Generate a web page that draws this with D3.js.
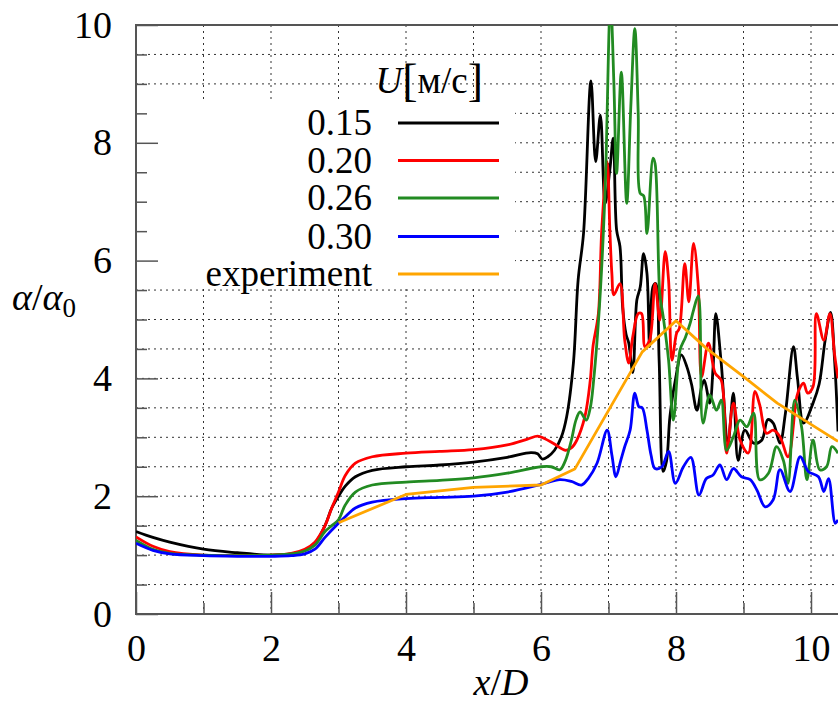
<!DOCTYPE html>
<html>
<head>
<meta charset="utf-8">
<script src="https://cdn.jsdelivr.net/npm/d3@7"></script>
<style>
  body { margin: 0; background: #fff; }
</style>
</head>
<body>
<svg id="chart"></svg>
<script>
// data, [x/D, alpha/alpha0]
const u015 = [[0,1.4],[0.25,1.3],[0.5,1.22],[1,1.1],[1.5,1.04],[2,1.0],[2.3,1.02],[2.5,1.08],[2.65,1.2],[2.8,1.5],[2.9,1.8],[3,2.0],[3.1,2.17],[3.25,2.33],[3.5,2.44],[4,2.5],[4.5,2.53],[5,2.58],[5.5,2.66],[5.85,2.74],[5.95,2.72],[6.02,2.63],[6.1,2.67],[6.2,2.78],[6.3,3.0],[6.38,3.35],[6.48,4.26],[6.55,5.67],[6.63,6.46],[6.74,9.05],[6.81,7.68],[6.88,8.47],[6.95,6.97],[7.02,7.54],[7.07,8.08],[7.12,6.52],[7.17,6.24],[7.21,5.2],[7.26,4.75],[7.3,4.6],[7.36,4.1],[7.42,5.33],[7.47,5.55],[7.52,6.12],[7.57,5.78],[7.61,4.54],[7.66,5.56],[7.7,5.61],[7.75,4.31],[7.81,2.42],[7.86,2.6],[7.91,3.35],[7.99,3.97],[8.08,4.4],[8.16,4.2],[8.23,3.9],[8.31,3.46],[8.38,3.86],[8.42,3.97],[8.5,3.58],[8.55,4.2],[8.59,5.1],[8.67,4.26],[8.77,2.9],[8.85,3.75],[8.92,2.61],[9.02,3.12],[9.15,2.9],[9.27,2.95],[9.36,3.3],[9.44,3.24],[9.54,2.9],[9.62,3.4],[9.74,4.54],[9.8,4.0],[9.89,3.24],[10.03,3.58],[10.12,3.9],[10.21,4.65],[10.29,5.12],[10.35,4.3],[10.4,3.1]];
const u020 = [[0,1.31],[0.25,1.15],[0.5,1.06],[1,1.0],[1.5,0.99],[2,1.0],[2.3,1.03],[2.5,1.1],[2.65,1.22],[2.8,1.5],[2.9,1.8],[3,2.07],[3.1,2.35],[3.25,2.56],[3.5,2.67],[4,2.73],[4.5,2.76],[5,2.79],[5.5,2.87],[5.8,2.97],[5.95,3.02],[6.05,2.98],[6.18,2.9],[6.36,2.78],[6.45,2.82],[6.53,2.95],[6.65,3.35],[6.73,3.97],[6.77,4.54],[6.85,5.1],[6.9,6.52],[6.98,7.68],[7.02,6.52],[7.05,5.78],[7.08,5.42],[7.17,5.61],[7.24,4.65],[7.3,4.26],[7.36,4.71],[7.44,5.1],[7.49,5.1],[7.54,4.54],[7.61,4.65],[7.69,5.61],[7.76,4.99],[7.84,6.15],[7.89,5.67],[7.94,4.31],[8.01,4.77],[8.05,4.85],[8.13,5.95],[8.19,5.3],[8.26,6.29],[8.33,5.56],[8.38,4.03],[8.48,4.6],[8.58,4.09],[8.67,3.97],[8.75,2.73],[8.85,3.58],[8.95,2.95],[9.07,2.73],[9.17,3.78],[9.24,3.55],[9.34,3.07],[9.44,3.12],[9.54,3.01],[9.66,2.67],[9.79,3.69],[9.84,3.85],[9.89,3.92],[9.95,3.75],[10.03,3.86],[10.08,5.1],[10.19,4.65],[10.28,5.1],[10.35,4.4],[10.4,4.0]];
const u026 = [[0,1.25],[0.25,1.1],[0.5,1.03],[1,1.0],[1.5,0.99],[2,1.0],[2.3,1.02],[2.5,1.07],[2.65,1.17],[2.8,1.4],[2.9,1.5],[3,1.6],[3.1,1.85],[3.25,2.07],[3.5,2.19],[4,2.24],[4.5,2.27],[5,2.31],[5.5,2.39],[6,2.5],[6.15,2.5],[6.28,2.45],[6.36,2.6],[6.45,2.95],[6.52,3.3],[6.58,3.43],[6.67,3.29],[6.73,3.5],[6.78,3.97],[6.87,5.3],[6.95,7.2],[7.03,10.4],[7.08,9.0],[7.12,7.48],[7.19,9.2],[7.27,6.97],[7.33,8.6],[7.39,9.94],[7.44,8.5],[7.47,7.14],[7.52,7.1],[7.57,6.46],[7.66,7.74],[7.69,7.65],[7.76,5.44],[7.81,5.05],[7.89,4.31],[7.96,3.29],[8.06,4.48],[8.14,4.7],[8.21,4.94],[8.26,5.16],[8.33,5.4],[8.4,3.24],[8.5,3.72],[8.6,3.46],[8.67,3.63],[8.75,2.78],[8.85,3.01],[8.95,3.29],[9.05,3.18],[9.15,3.41],[9.24,2.28],[9.37,2.39],[9.49,2.84],[9.59,2.61],[9.66,2.22],[9.76,3.63],[9.86,3.18],[9.94,2.28],[10.03,2.95],[10.13,2.45],[10.23,2.5],[10.31,2.84],[10.4,2.73]];
const u030 = [[0,1.2],[0.25,1.08],[0.5,1.02],[1,0.99],[1.5,0.98],[2,0.98],[2.3,0.99],[2.5,1.02],[2.65,1.1],[2.8,1.3],[3,1.54],[3.1,1.65],[3.25,1.8],[3.5,1.9],[4,1.96],[4.5,1.98],[5,2.0],[5.5,2.07],[6,2.2],[6.28,2.28],[6.45,2.25],[6.6,2.19],[6.7,2.3],[6.83,2.56],[6.98,3.12],[7.05,2.7],[7.11,2.33],[7.18,2.6],[7.24,2.84],[7.32,3.12],[7.39,3.75],[7.45,3.52],[7.5,3.5],[7.57,3.12],[7.63,2.7],[7.69,2.47],[7.79,2.5],[7.89,2.76],[7.99,2.22],[8.11,2.5],[8.22,2.66],[8.34,2.02],[8.45,2.3],[8.55,2.36],[8.65,2.53],[8.75,2.28],[8.85,2.47],[8.97,2.33],[9.1,2.28],[9.2,2.1],[9.32,1.82],[9.44,1.94],[9.54,2.45],[9.69,2.08],[9.84,2.67],[9.96,2.42],[10.11,2.33],[10.19,2.08],[10.26,2.3],[10.36,1.54],[10.4,1.6]];
const experiment = [[3,1.55],[4,2.03],[5,2.15],[6,2.19],[6.5,2.46],[7.5,4.45],[8,4.98],[8.45,4.51],[9,4.03],[9.5,3.58],[10,3.22],[10.4,2.93]];

const seriesNames = ["0.15", "0.20", "0.26", "0.30", "experiment"];
const seriesData = [u015, u020, u026, u030, experiment];
const seriesColors = ["#000000", "#ff0000", "#228b22", "#0000ff", "#ffa500"];

const xMajor = [0, 2, 4, 6, 8, 10];
const xMinor = [1, 3, 5, 7, 9];
const yMajor = [0, 2, 4, 6, 8, 10];
const yMinor = [0.5, 1, 1.5, 2.5, 3, 3.5, 4.5, 5, 5.5, 6.5, 7, 7.5, 8.5, 9, 9.5];
const xGrid = [1, 2, 3, 4, 5, 6, 7, 8, 9, 10];
const yGrid = [0.5, 1, 1.5, 2, 2.5, 3, 3.5, 4, 4.5, 5, 5.5, 6, 6.5, 7, 7.5, 8, 8.5, 9, 9.5];

const width = 838, height = 709;
const plotLeft = 136, plotRight = 838, plotTop = 25, plotBottom = 614;
const serif = "'Liberation Serif', 'DejaVu Serif', 'Times New Roman', serif";

const svg = d3.select("#chart")
    .attr("width", width)
    .attr("height", height)
    .attr("font-family", serif);

svg.append("rect").attr("width", width).attr("height", height).attr("fill", "#fff");

const x = d3.scaleLinear().domain([0, 10.4]).range([plotLeft, plotRight]);
const y = d3.scaleLinear().domain([0, 10]).range([plotBottom, plotTop]);

// dotted grid
svg.append("g").selectAll("line")
    .data(xGrid).enter().append("line")
    .attr("x1", d => x(d)).attr("x2", d => x(d))
    .attr("y1", plotTop).attr("y2", plotBottom)
    .attr("stroke", "#333").attr("stroke-width", 1)
    .attr("stroke-dasharray", "2,4");

svg.append("g").selectAll("line")
    .data(yGrid).enter().append("line")
    .attr("x1", plotLeft).attr("x2", plotRight)
    .attr("y1", d => y(d)).attr("y2", d => y(d))
    .attr("stroke", "#333").attr("stroke-width", 1)
    .attr("stroke-dasharray", "2,4");

// legend box hides the grid
svg.append("rect")
    .attr("x", plotLeft + 1).attr("y", 103)
    .attr("width", 378).attr("height", 186)
    .attr("fill", "#fff");

// axes
const axisColor = "#555";
function styleAxis(g) {
    g.attr("font-family", serif).attr("font-size", 38);
    g.select(".domain").remove();
    g.selectAll(".tick line").attr("stroke", axisColor).attr("stroke-width", 1.5);
    g.selectAll(".tick text").style("font-family", serif).attr("fill", "#000");
}

svg.append("g")
    .attr("transform", `translate(0,${plotBottom})`)
    .call(d3.axisBottom(x).tickValues(xMajor).tickSize(-22).tickPadding(20).tickFormat(d3.format("d")))
    .call(styleAxis);
svg.append("g")
    .attr("transform", `translate(0,${plotBottom})`)
    .call(d3.axisBottom(x).tickValues(xMinor).tickSize(-11).tickFormat(""))
    .call(styleAxis);
svg.append("g")
    .attr("transform", `translate(${plotLeft},0)`)
    .call(d3.axisLeft(y).tickValues(yMajor).tickSize(-22).tickPadding(24).tickFormat(d3.format("d")))
    .call(styleAxis);
svg.append("g")
    .attr("transform", `translate(${plotLeft},0)`)
    .call(d3.axisLeft(y).tickValues(yMinor).tickSize(-11).tickFormat(""))
    .call(styleAxis);

// frame
svg.append("path")
    .attr("d", `M${plotRight},${plotTop}H${plotLeft}V${plotBottom}H${plotRight}`)
    .attr("fill", "none").attr("stroke", axisColor).attr("stroke-width", 2);

// curves
svg.append("clipPath").attr("id", "plot")
    .append("rect").attr("x", plotLeft).attr("y", plotTop)
    .attr("width", plotRight - plotLeft).attr("height", plotBottom - plotTop);

const smooth = d3.line().x(d => x(d[0])).y(d => y(d[1])).curve(d3.curveCatmullRom.alpha(0.5));
const straight = d3.line().x(d => x(d[0])).y(d => y(d[1]));

const plot = svg.append("g").attr("clip-path", "url(#plot)");
seriesData.forEach((data, i) => {
    plot.append("path")
        .attr("d", i == 4 ? straight(data) : smooth(data))
        .attr("fill", "none")
        .attr("stroke", seriesColors[i])
        .attr("stroke-width", 2.8)
        .attr("stroke-linejoin", "round");
});

// legend
const legendTitle = svg.append("text")
    .attr("x", 483).attr("y", 93)
    .attr("text-anchor", "end")
    .style("font-family", serif)
    .style("font-size", "37px");
legendTitle.append("tspan").style("font-style", "italic").text("U");
legendTitle.append("tspan").style("font-size", "46px").attr("dy", 3).text("[");
legendTitle.append("tspan").attr("dy", -3).text("м/с");
legendTitle.append("tspan").style("font-size", "46px").attr("dy", 3).text("]");

const legendY = [123, 160.5, 198, 236.5, 274];
seriesNames.forEach((name, i) => {
    svg.append("text")
        .attr("x", 372).attr("y", legendY[i] + 12)
        .attr("text-anchor", "end")
        .style("font-family", serif)
        .style("font-size", "37px")
        .text(name);
    svg.append("line")
        .attr("x1", 398).attr("x2", 499)
        .attr("y1", legendY[i]).attr("y2", legendY[i])
        .attr("stroke", seriesColors[i])
        .attr("stroke-width", 2.8);
});

// axis titles
const xTitle = svg.append("text")
    .attr("x", 501).attr("y", 695)
    .attr("text-anchor", "middle")
    .style("font-family", serif)
    .style("font-size", "38px");
xTitle.append("tspan").style("font-style", "italic").text("x");
xTitle.append("tspan").text("/");
xTitle.append("tspan").style("font-style", "italic").text("D");

const yTitle = svg.append("text")
    .attr("x", 12).attr("y", 310)
    .style("font-family", serif)
    .style("font-size", "38px");
yTitle.append("tspan").style("font-style", "italic").text("α");
yTitle.append("tspan").text("/");
yTitle.append("tspan").style("font-style", "italic").text("α");
yTitle.append("tspan").style("font-size", "27px").attr("dy", 7).text("0");
</script>
</body>
</html>
